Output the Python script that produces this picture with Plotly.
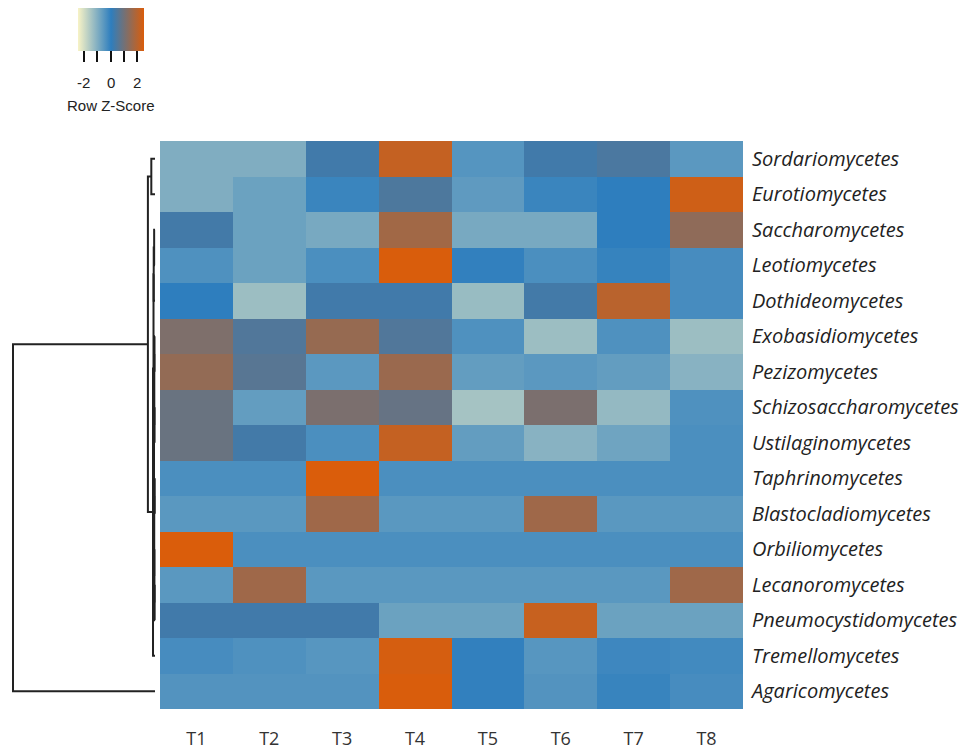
import plotly.graph_objects as go

# Fungal classes (rows, in dendrogram order) and samples (columns)
classes = [
    "Sordariomycetes", "Eurotiomycetes", "Saccharomycetes", "Leotiomycetes",
    "Dothideomycetes", "Exobasidiomycetes", "Pezizomycetes",
    "Schizosaccharomycetes", "Ustilaginomycetes", "Taphrinomycetes",
    "Blastocladiomycetes", "Orbiliomycetes", "Lecanoromycetes",
    "Pneumocystidomycetes", "Tremellomycetes", "Agaricomycetes",
]
samples = ["T1", "T2", "T3", "T4", "T5", "T6", "T7", "T8"]

# Row z-scores of relative abundance
zscores = [
    [-1.00, -1.00, 0.27, 2.15, -0.48, 0.27, 0.42, -0.55],
    [-1.00, -0.75, -0.15, 0.45, -0.60, -0.15, 0.00, 2.30],
    [0.30, -0.75, -0.90, 1.65, -0.90, -0.90, 0.00, 1.40],
    [-0.40, -0.75, -0.35, 2.45, -0.05, -0.35, -0.10, -0.30],
    [0.00, -1.35, 0.28, 0.28, -1.30, 0.30, 2.00, -0.30],
    [1.15, 0.50, 1.50, 0.50, -0.40, -1.35, -0.40, -1.35],
    [1.45, 0.60, -0.55, 1.55, -0.65, -0.55, -0.65, -1.10],
    [0.85, -0.65, 1.10, 0.80, -1.45, 1.10, -1.25, -0.40],
    [0.85, 0.30, -0.35, 2.15, -0.65, -1.10, -0.80, -0.35],
    [-0.35, -0.35, 2.47, -0.35, -0.35, -0.35, -0.35, -0.35],
    [-0.54, -0.54, 1.62, -0.54, -0.54, 1.62, -0.54, -0.54],
    [2.47, -0.35, -0.35, -0.35, -0.35, -0.35, -0.35, -0.35],
    [-0.54, 1.62, -0.54, -0.54, -0.54, -0.54, -0.54, 1.62],
    [0.28, 0.28, 0.28, -0.75, -0.75, 2.20, -0.75, -0.75],
    [-0.30, -0.40, -0.50, 2.40, -0.05, -0.50, -0.20, -0.25],
    [-0.45, -0.45, -0.45, 2.45, -0.05, -0.45, -0.12, -0.30],
]

# Row clustering: (left, right, height); leaves are 0..15, new nodes numbered from 16
merges = [
    (0, 1, 2.6),
    (2, 3, 0.6),
    (17, 4, 0.9),
    (5, 6, 0.35),
    (7, 8, 0.3),
    (19, 20, 0.5),
    (9, 10, 0.2),
    (12, 13, 0.25),
    (11, 23, 0.4),
    (22, 24, 0.55),
    (21, 25, 0.7),
    (18, 26, 1.05),
    (27, 14, 1.4),
    (16, 28, 5.0),
    (29, 15, 100.0),
]

# Colour key
key_ticks = [-2, -1, 0, 1, 2]
key_labels = {-2: "-2", 0: "0", 2: "2"}
key_title = "Row Z-Score"

colorscale = [[0.0, "#F8F3C6"], [0.5, "#2E7EBE"], [1.0, "#DA5D0B"]]
zlim = 2.47

# Dendrogram segments
n = len(classes)
pos = {i: float(i) for i in range(n)}
hgt = {i: 0.0 for i in range(n)}
dx, dy = [], []
for k, (a, b, h) in enumerate(merges):
    node = n + k
    dx += [hgt[a], h, h, hgt[b], None]
    dy += [pos[a], pos[a], pos[b], pos[b], None]
    pos[node] = (pos[a] + pos[b]) / 2
    hgt[node] = h

W, H = 963, 752
left, right, top, bottom = 160, 743, 141, 709

# colour key geometry (pixels)
key_cx, key_len, key_top, key_thick, key_tick = 110.5, 66, 8, 43, 11
px_per_unit = key_len / (2 * zlim)
key_font = dict(family="Liberation Sans, Arial", size=15, color="#222")

fig = go.Figure()
fig.add_trace(go.Heatmap(
    z=zscores, x=list(range(len(samples))), y=list(range(n)),
    colorscale=colorscale, zmin=-zlim, zmax=zlim, xgap=0, ygap=0,
    hovertemplate="%{text}: %{z}<extra></extra>",
    text=[[f"{c} {s}" for s in samples] for c in classes],
    colorbar=dict(
        orientation="h", x=key_cx / W, xanchor="center",
        y=1 - key_top / H, yanchor="top", lenmode="pixels", len=key_len,
        thickness=key_thick, thicknessmode="pixels", outlinewidth=0,
        xpad=0, ypad=0,
        tickvals=key_ticks, ticktext=[""] * len(key_ticks),
        ticks="outside", ticklen=key_tick, tickwidth=2, tickcolor="#111",
        tickfont=dict(size=1),
    ),
))
fig.add_trace(go.Scatter(
    x=dx, y=dy, mode="lines", xaxis="x2", yaxis="y",
    line=dict(color="#222", width=2), hoverinfo="skip", showlegend=False,
))

annotations = []
for v, lab in key_labels.items():
    annotations.append(dict(
        x=(key_cx + v * px_per_unit) / W, y=1 - 82 / H, xref="paper", yref="paper",
        text=lab, showarrow=False, xanchor="center", yanchor="middle", font=key_font,
    ))
annotations.append(dict(
    x=key_cx / W, y=1 - 105 / H, xref="paper", yref="paper",
    text=key_title, showarrow=False, xanchor="center", yanchor="middle", font=key_font,
))

# dendrogram height scale: 0 at x=155 px, 100 at x=13 px
px_per = 1.42
fig.update_layout(
    width=W, height=H, autosize=False,
    margin=dict(l=0, r=0, t=0, b=0),
    paper_bgcolor="white", plot_bgcolor="white",
    annotations=annotations,
    xaxis=dict(
        domain=[left / W, right / W], range=[-0.5, len(samples) - 0.5],
        tickvals=list(range(len(samples))), ticktext=samples,
        showgrid=False, zeroline=False, showline=False, ticks="",
        ticklabelstandoff=17,
        tickfont=dict(family="Open Sans", size=18, color="#333"),
    ),
    yaxis=dict(
        domain=[1 - bottom / H, 1 - top / H], range=[n - 0.5, -0.5],
        tickvals=list(range(n)), ticktext=classes, side="right",
        showgrid=False, zeroline=False, showline=False, ticks="",
        ticklabelstandoff=8,
        tickfont=dict(family="Open Sans", size=20, color="#222", style="italic"),
    ),
    xaxis2=dict(
        domain=[0, left / W], anchor="y",
        range=[155 / px_per, (155 - left) / px_per],
        visible=False, showgrid=False, zeroline=False,
    ),
)

fig.write_html("out.html")
